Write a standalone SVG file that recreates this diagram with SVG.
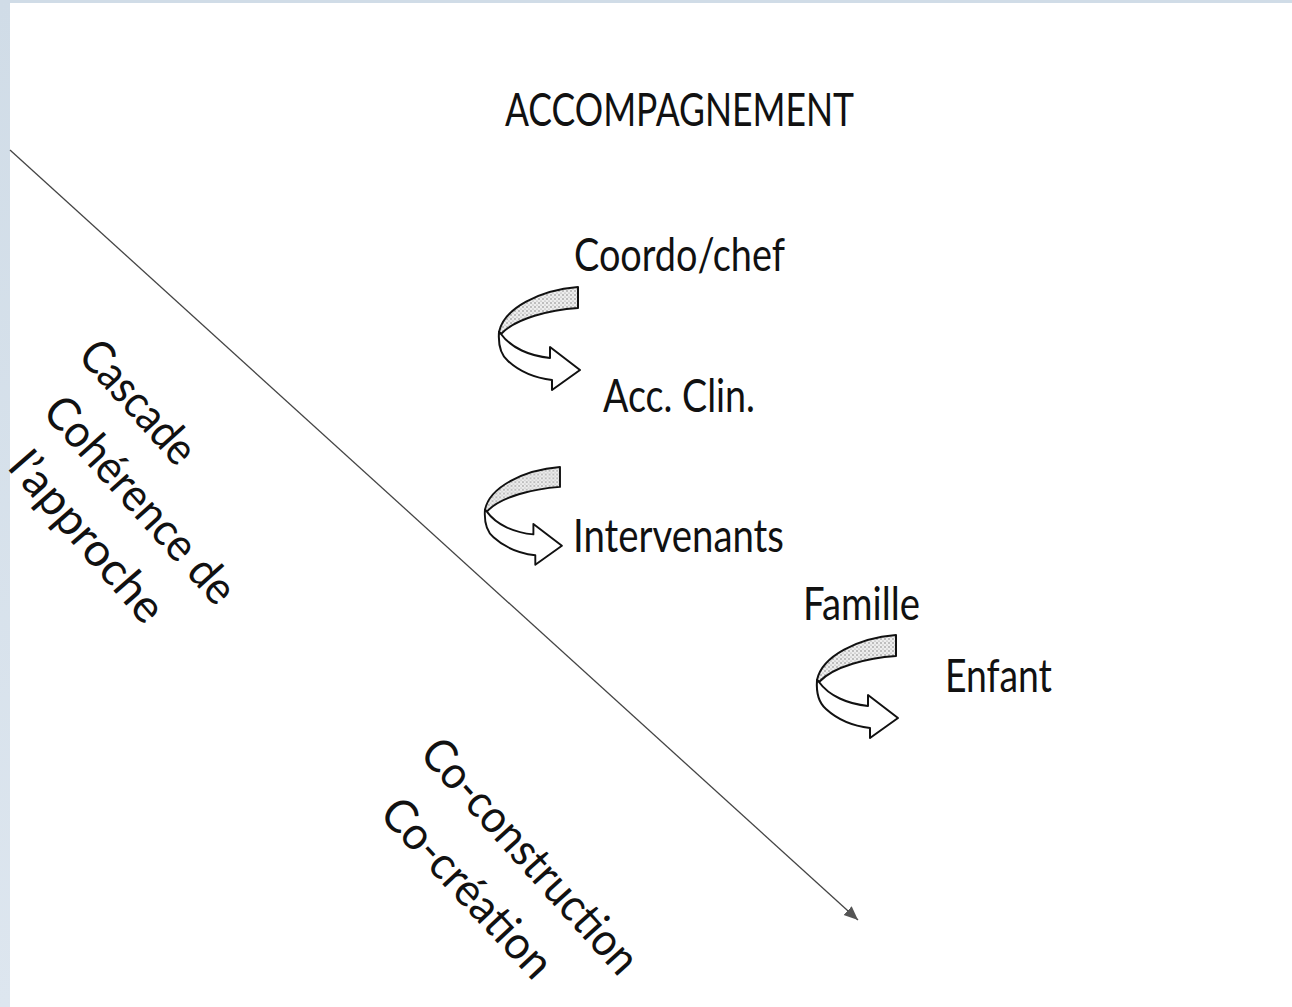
<svg xmlns="http://www.w3.org/2000/svg" width="1292" height="1007" viewBox="0 0 1292 1007">
  <defs>
    <linearGradient id="bord" x1="0" y1="0" x2="0" y2="1">
      <stop offset="0" stop-color="#d0dce7"/>
      <stop offset="1" stop-color="#dde6ef"/>
    </linearGradient>
    <pattern id="stipple" width="4" height="4" patternUnits="userSpaceOnUse">
      <rect width="4" height="4" fill="#eeeeee"/>
      <circle cx="1" cy="1" r="0.7" fill="#6a6a6a"/>
      <circle cx="3" cy="3" r="0.6" fill="#8a8a8a"/>
    </pattern>
    <marker id="head" markerWidth="16" markerHeight="14" refX="14" refY="7" orient="auto" markerUnits="userSpaceOnUse">
      <path d="M0,1 L14,7 L0,13 Z" fill="#555"/>
    </marker>
    <g id="curl">
      <path d="M108,17 L108,38 C 80,40 46,48 31,64 L29,62 C 34,38 70,20 108,17 Z" fill="url(#stipple)" stroke="#111" stroke-width="2" stroke-linejoin="round"/>
      <path d="M29,62 C 28,76 31,85 38,91 C 50,102 65,108 82,110 L82,120 L110,100 L80,77 L80,88 C 60,86 41,78 31,64 Z" fill="#fff" stroke="#111" stroke-width="2" stroke-linejoin="round"/>
    </g>
    <style>
      .lbl { font-family: Lato, "Open Sans", "Liberation Sans", sans-serif; font-size: 46px; fill: #111; }
      .rot { font-family: Lato, "Open Sans", "Liberation Sans", sans-serif; font-size: 46px; fill: #111; text-anchor: middle; }
    </style>
  </defs>

  <rect width="1292" height="1007" fill="#fff"/>
  <rect x="0" y="0" width="10" height="1007" fill="url(#bord)"/>
  <rect x="0" y="0" width="1292" height="3" fill="#d0dce7"/>

  <g id="connectors">
    <line x1="10" y1="150" x2="858" y2="920" stroke="#444" stroke-width="1.3" marker-end="url(#head)"/>
    <use href="#curl" transform="translate(470,270)"/>
    <use href="#curl" transform="translate(457.4,450.8) scale(0.95)"/>
    <use href="#curl" transform="translate(788,618)"/>
  </g>

  <g id="title"><text class="lbl" x="505" y="126" textLength="349" lengthAdjust="spacingAndGlyphs">ACCOMPAGNEMENT</text></g>
  <g id="coordo"><text class="lbl" x="574" y="271" textLength="211" lengthAdjust="spacingAndGlyphs">Coordo/chef</text></g>
  <g id="accclin"><text class="lbl" x="603" y="412" textLength="152" lengthAdjust="spacingAndGlyphs">Acc. Clin.</text></g>
  <g id="intervenants"><text class="lbl" x="573" y="552" textLength="211" lengthAdjust="spacingAndGlyphs">Intervenants</text></g>
  <g id="famille"><text class="lbl" x="803" y="620" textLength="117" lengthAdjust="spacingAndGlyphs">Famille</text></g>
  <g id="enfant"><text class="lbl" x="945" y="692" textLength="107" lengthAdjust="spacingAndGlyphs">Enfant</text></g>

  <g id="cascade"><text class="rot" transform="translate(137,403) rotate(48)" x="0" y="14" textLength="150" lengthAdjust="spacingAndGlyphs">Cascade</text></g>
  <g id="coherence"><text class="rot" transform="translate(139,501) rotate(48)" x="0" y="14" textLength="262" lengthAdjust="spacingAndGlyphs">Cohérence de</text></g>
  <g id="approche"><text class="rot" transform="translate(86,538) rotate(49)" x="0" y="14" textLength="210" lengthAdjust="spacingAndGlyphs">l’approche</text></g>
  <g id="coconstruction"><text class="rot" transform="translate(529,857) rotate(48)" x="0" y="14" textLength="300" lengthAdjust="spacingAndGlyphs">Co-construction</text></g>
  <g id="cocreation"><text class="rot" transform="translate(466,889) rotate(47)" x="0" y="14" textLength="228" lengthAdjust="spacingAndGlyphs">Co-création</text></g>
</svg>
